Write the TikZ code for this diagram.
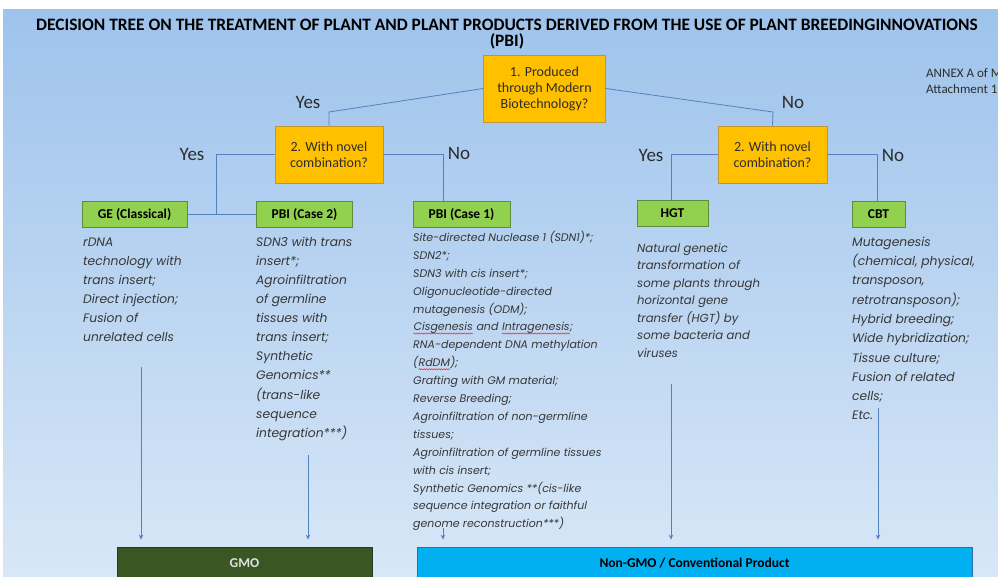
\documentclass[tikz,border=0pt]{standalone}
\usepackage{fontspec}
\setmainfont{Carlito}
\newfontfamily\listfont{Poppins}
\usetikzlibrary{arrows.meta,decorations.pathmorphing}
\definecolor{bgtop}{RGB}{158,195,236}
\definecolor{bgbot}{RGB}{216,231,247}
\definecolor{lc}{RGB}{84,130,190}
\definecolor{yel}{RGB}{255,192,0}
\definecolor{ybord}{RGB}{190,150,50}
\definecolor{grn}{RGB}{146,208,80}
\definecolor{gbord}{RGB}{95,140,60}
\definecolor{gmoc}{RGB}{58,86,35}
\definecolor{gmob}{RGB}{40,60,25}
\definecolor{nblue}{RGB}{0,176,240}
\definecolor{nbord}{RGB}{40,110,175}
\definecolor{txt}{RGB}{45,45,45}
\definecolor{listc}{RGB}{55,55,55}
\newcommand\redwave[1]{\tikz[baseline=(w.base)]{\node[inner sep=0pt, anchor=base](w){#1};
  \draw[red, line width=0.4pt, decorate, decoration={snake, amplitude=0.6pt, segment length=2.5pt}]
  ([yshift=-2.5pt]w.base west) -- ([yshift=-2.5pt]w.base east);}}
\newcommand\fl{\rule{0pt}{10pt}}
\tikzset{
  ybox/.style={draw=ybord, fill=yel, line width=0.8pt, inner sep=0pt, align=center, text=txt,
    font=\fontsize{14}{16}\selectfont},
  gbox/.style={draw=gbord, fill=grn, line width=0.8pt, inner sep=0pt, minimum height=26pt,
    font=\bfseries\fontsize{13.5}{15}\selectfont, text=black},
  lbl/.style={font=\fontsize{19}{20}\selectfont, text=txt, inner sep=0pt},
  conn/.style={draw=lc, line width=0.8pt},
  arr/.style={draw=lc, line width=0.8pt, -{Stealth[length=5pt,width=4.5pt]}, shorten >=7pt},
  listbox/.style={anchor=north west, inner sep=0pt, align=left, text=listc},
  bottombox/.style={inner sep=0pt, minimum height=32pt, line width=0.8pt,
    font=\bfseries\fontsize{13.5}{15}\selectfont}
}
\begin{document}
\begin{tikzpicture}[x=1pt,y=-1pt]
\useasboundingbox (0,0) rectangle (998,576);
\fill[white] (0,0) rectangle (998,576);
\shade[top color=bgtop, bottom color=bgbot] (3,9) rectangle (998,576);

% title
\node[font=\bfseries\fontsize{17.4}{16}\selectfont, align=center, text=black, inner sep=0pt] (title) at (507,34)
  {DECISION TREE ON THE TREATMENT OF PLANT AND PLANT PRODUCTS DERIVED FROM THE USE OF PLANT BREEDINGINNOVATIONS\\(PBI)};
\node[anchor=west, align=left, font=\fontsize{13}{16}\selectfont, text=txt, inner sep=0pt] (annex) at (926,81)
  {ANNEX A of M\\Attachment 1};

% decision boxes
\node[ybox, minimum width=122pt, minimum height=67pt] (q1) at (544.5,88.5)
  {1. Produced\\through Modern\\Biotechnology?};
\node[ybox, minimum width=108pt, minimum height=57pt] (q2l) at (329,154.5)
  {2. With novel\\combination?};
\node[ybox, minimum width=109pt, minimum height=57pt] (q2r) at (772.5,154.5)
  {2. With novel\\combination?};

% category boxes
\node[gbox, minimum width=105pt] (ge) at (134.5,214.5) {GE (Classical)};
\node[gbox, minimum width=96pt] (pbi2) at (304.5,214.5) {PBI (Case 2)};
\node[gbox, minimum width=97pt] (pbi1) at (461.5,214.5) {PBI (Case 1)};
\node[gbox, minimum width=71pt] (hgt) at (672.5,213.5) {HGT};
\node[gbox, minimum width=53pt] (cbt) at (878.5,214) {CBT};

% connectors
\coordinate (ya) at (329,112);
\coordinate (na) at (773,112);
\draw[conn] (q1.west) -- (ya) -- (q2l.north);
\draw[conn] (q1.east) -- (na) -- (q2r.north);
\coordinate (jl) at (216,214.5);
\draw[conn] (ge.east) -- (pbi2.west);
\draw[conn] (q2l.west) -| (jl);
\coordinate (jr) at (443,154.5);
\draw[conn] (q2l.east) -- (jr) -- (jr |- pbi1.north);
\coordinate (jh) at (671,154.5);
\draw[conn] (q2r.west) -- (jh) -- (jh |- hgt.north);
\coordinate (jc) at (877,154.5);
\draw[conn] (q2r.east) -- (jc) -- (jc |- cbt.north);

% yes / no labels
\node[lbl] (l1) at (308,102) {Yes};
\node[lbl] (l2) at (793,102) {No};
\node[lbl] (l3) at (192,154) {Yes};
\node[lbl] (l4) at (459,153) {No};
\node[lbl] (l5) at (651,155) {Yes};
\node[lbl] (l6) at (893,155) {No};

% lists
\node[listbox, font=\listfont\itshape\fontsize{12.3}{19}\selectfont] (tge) at (83,236)
  {\fl rDNA\\technology with\\trans insert;\\Direct injection;\\Fusion of\\unrelated cells};
\node[listbox, font=\listfont\itshape\fontsize{12.3}{19.1}\selectfont] (tpbi2) at (256,236)
  {\fl SDN3 with trans\\insert*;\\Agroinfiltration\\of germline\\tissues with\\trans insert;\\Synthetic\\Genomics**\\(trans-like\\sequence\\integration***)};
\node[listbox, font=\listfont\itshape\fontsize{11}{17.9}\selectfont] (tpbi1) at (413,231)
  {\fl Site-directed Nuclease 1 (SDN1)*;\\SDN2*;\\SDN3 with cis insert*;\\Oligonucleotide-directed\\mutagenesis (ODM);\\\redwave{Cisgenesis} and \redwave{Intragenesis};\\RNA-dependent DNA methylation\\(\redwave{RdDM});\\Grafting with GM material;\\Reverse Breeding;\\Agroinfiltration of non-germline\\tissues;\\Agroinfiltration of germline tissues\\with cis insert;\\Synthetic Genomics **(cis-like\\sequence integration or faithful\\genome reconstruction***)};
\node[listbox, font=\listfont\itshape\fontsize{11.7}{17.5}\selectfont] (thgt) at (637,242)
  {\fl Natural genetic\\transformation of\\some plants through\\horizontal gene\\transfer (HGT) by\\some bacteria and\\viruses};
\node[listbox, font=\listfont\itshape\fontsize{12.3}{19.3}\selectfont] (tcbt) at (852,236)
  {\fl Mutagenesis\\(chemical, physical,\\transposon,\\retrotransposon);\\Hybrid breeding;\\Wide hybridization;\\Tissue culture;\\Fusion of related\\cells;\\Etc.};

% outcome boxes
\node[bottombox, draw=gmob, fill=gmoc, text={rgb,255:red,225;green,225;blue,225}, minimum width=255pt] (gmo) at (244.5,563) {GMO};
\node[bottombox, draw=nbord, fill=nblue, text=black, minimum width=555pt] (ngmo) at (694.5,563) {Non-GMO / Conventional Product};

% arrows
\coordinate (s1) at (141,367);
\coordinate (s2) at (308,455);
\coordinate (s3) at (443,528);
\coordinate (s4) at (671,384);
\coordinate (s5) at (878,408);
\draw[arr] (s1) -- (s1 |- gmo.north);
\draw[arr] (s2) -- (s2 |- gmo.north);
\draw[arr] (s3) -- (s3 |- ngmo.north);
\draw[arr] (s4) -- (s4 |- ngmo.north);
\draw[arr] (s5) -- (s5 |- ngmo.north);
\end{tikzpicture}
\end{document}
